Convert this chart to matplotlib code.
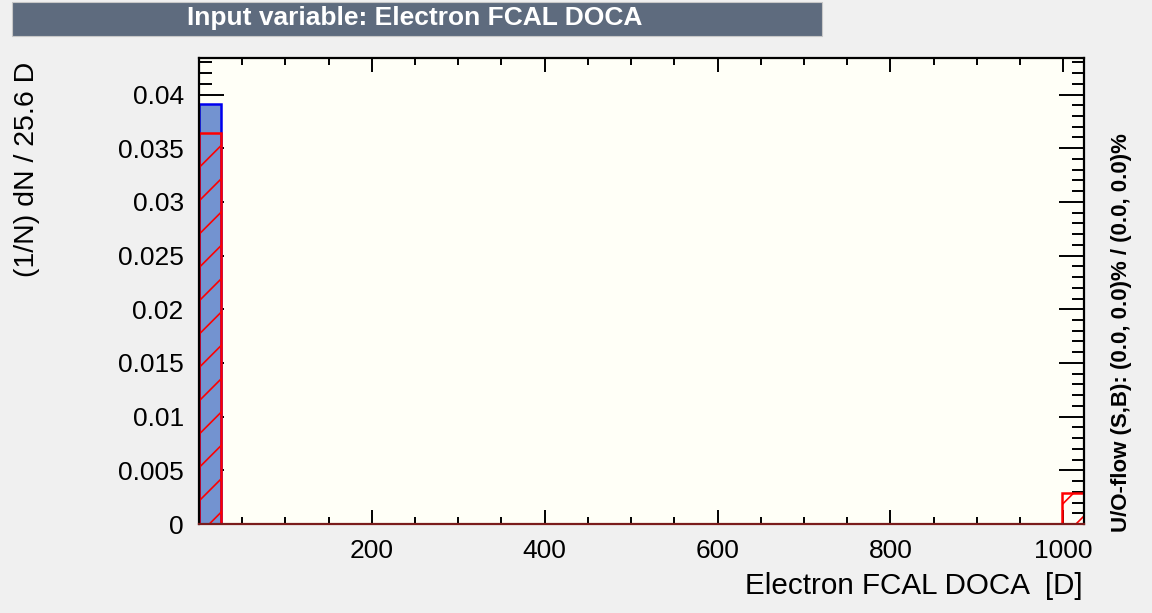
#!/usr/bin/env python3
"""TMVA-style input variable plot: Electron FCAL DOCA."""
import matplotlib

matplotlib.use("Agg")
import matplotlib.pyplot as plt
from matplotlib.patches import Rectangle
from matplotlib.ticker import MultipleLocator, FixedFormatter, FixedLocator
import numpy as np

# 40 bins of 25.6 D from 0 to 1024
BIN_EDGES = np.linspace(0.0, 1024.0, 41)
SIGNAL = [0.0391, 0.0, 0.0, 0.0, 0.0, 0.0, 0.0, 0.0, 0.0, 0.0,
          0.0, 0.0, 0.0, 0.0, 0.0, 0.0, 0.0, 0.0, 0.0, 0.0,
          0.0, 0.0, 0.0, 0.0, 0.0, 0.0, 0.0, 0.0, 0.0, 0.0,
          0.0, 0.0, 0.0, 0.0, 0.0, 0.0, 0.0, 0.0, 0.0, 0.0]
BACKGROUND = [0.0364, 0.0, 0.0, 0.0, 0.0, 0.0, 0.0, 0.0, 0.0, 0.0,
              0.0, 0.0, 0.0, 0.0, 0.0, 0.0, 0.0, 0.0, 0.0, 0.0,
              0.0, 0.0, 0.0, 0.0, 0.0, 0.0, 0.0, 0.0, 0.0, 0.0,
              0.0, 0.0, 0.0, 0.0, 0.0, 0.0, 0.0, 0.0, 0.0, 0.0029]
Y_TICKS = [0.0, 0.005, 0.01, 0.015, 0.02, 0.025, 0.03, 0.035, 0.04]
Y_LABELS = ["0", "0.005", "0.01", "0.015", "0.02", "0.025", "0.03", "0.035", "0.04"]
X_TICKS = [200, 400, 600, 800, 1000]

TITLE = "Input variable: Electron FCAL DOCA"
XLABEL = "Electron FCAL DOCA  [D]"
YLABEL = "(1/N) dN / 25.6 D"
OVERFLOW = "U/O-flow (S,B): (0.0, 0.0)% / (0.0, 0.0)%"

plt.rcParams["font.family"] = ["Liberation Sans", "DejaVu Sans"]
plt.rcParams["hatch.linewidth"] = 1.2

W, H = 1152, 613
fig = plt.figure(figsize=(W / 100, H / 100), dpi=100, facecolor="#f0f0f0")
ax = fig.add_axes([199 / W, 1 - 524 / H, (1084 - 199) / W, (524 - 58) / H])
ax.set_facecolor("#fffff7")

ax.stairs(SIGNAL, BIN_EDGES, fill=True, color="#7393d0", zorder=2)
ax.stairs(SIGNAL, BIN_EDGES, color="#0000ee", linewidth=1.8, zorder=3)
ax.stairs(BACKGROUND, BIN_EDGES, fill=True, facecolor="none", edgecolor="#ff0000",
          hatch="/", linewidth=0, zorder=4)
ax.stairs(BACKGROUND, BIN_EDGES, color="#ff0000", linewidth=1.8, zorder=5)

ax.set_xlim(0, 1024)
ax.set_ylim(0, 0.0434)
ax.xaxis.set_major_locator(FixedLocator(X_TICKS))
ax.xaxis.set_minor_locator(MultipleLocator(50))
ax.yaxis.set_major_locator(FixedLocator(Y_TICKS))
ax.yaxis.set_major_formatter(FixedFormatter(Y_LABELS))
ax.yaxis.set_minor_locator(MultipleLocator(0.001))

ax.tick_params(which="both", direction="in", top=True, right=True, width=1.4,
               color="black", labelsize=19)
ax.tick_params(axis="x", which="major", length=10, pad=11)
ax.tick_params(axis="x", which="minor", length=5)
ax.tick_params(axis="y", which="major", length=18, pad=11)
ax.tick_params(axis="y", which="minor", length=9)
for spine in ax.spines.values():
    spine.set_linewidth(1.6)
    spine.set_zorder(6)
ax.spines["bottom"].set_color("#7a1c1c")

# title banner
fig.patches.append(Rectangle((12 / W, 1 - 36 / H), (822 - 12) / W, 34 / H,
                             transform=fig.transFigure, facecolor="#5e6b7e",
                             edgecolor="#c8c8c8", linewidth=0.8, zorder=1))
fig.text(415 / W, 1 - 18 / H, TITLE, color="white", fontsize=19, fontweight="bold",
         ha="center", va="center", zorder=2)

fig.text(27 / W, 1 - 62 / H, YLABEL, rotation=90, ha="center", va="top", fontsize=20.5)
fig.text(1083 / W, 1 - 586 / H, XLABEL, ha="right", va="center", fontsize=21.3)
fig.text(1122 / W, 1 - 333 / H, OVERFLOW, rotation=90, ha="center", va="center",
         fontsize=16, fontweight="bold")

fig.savefig("out.png", dpi=100, facecolor=fig.get_facecolor())
plt.close(fig)
